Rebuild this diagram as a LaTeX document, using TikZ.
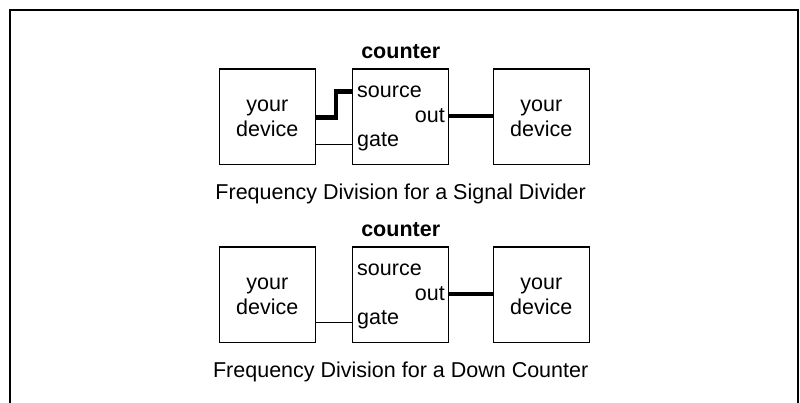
\documentclass[tikz,border=0pt]{standalone}
\usepackage{fontspec}
\setmainfont{Liberation Sans}
\begin{document}
\begin{tikzpicture}[x=1pt,y=-1pt,
  box/.style={draw,line width=1.3pt,minimum width=96pt,minimum height=95.5pt,inner sep=0pt,outer sep=0pt},
  lbl/.style={inner sep=0pt,font=\fontsize{21.5}{24}\selectfont},
  ttl/.style={inner sep=0pt,font=\fontsize{21.5}{24}\selectfont\bfseries,anchor=base},
  heavy/.style={line width=4.7pt},
  light/.style={line width=1.3pt}]
\useasboundingbox (0,0) rectangle (800,402);
\fill[white] (0,0) rectangle (800,402);
\draw[line width=2pt] (10,440) -- (10,10) -- (798,10) -- (798,440);
% top diagram
\begin{scope}[name prefix=a-]
\node[box] (L) at (267.3,116.7) {};
\node[box] (C) at (400.7,116.7) {};
\node[box] (R) at (541.3,116.7) {};
\node[ttl] (T) at (400.7,58.3) {counter};
\node[lbl,anchor=base] (L1) at (267.3,111.7) {your};
\node[lbl,anchor=base] (L2) at (267.3,136) {device};
\node[lbl,anchor=base] (R1) at (541.3,111.7) {your};
\node[lbl,anchor=base] (R2) at (541.3,136) {device};
\node[lbl,anchor=base west] (src) at (357,97.3) {source};
\node[lbl,anchor=base east] (out) at (445,122.7) {out};
\node[lbl,anchor=base west] (gate) at (357,146) {gate};
\node[lbl,anchor=base] (cap) at (400.7,199.3) {Frequency Division for a Signal Divider};
\coordinate (step) at (336,117.5);
\draw[heavy] (L.east |- step) -- (step) |- (C.west |- 0,91.8);
\draw[heavy] (C.east |- 0,116) -- (R.west |- 0,116);
\draw[light] (L.east |- 0,144.3) -- (C.west |- 0,144.3);
\end{scope}
% bottom diagram
\begin{scope}[shift={(0,178)},name prefix=b-]
\node[box] (L) at (267.3,116.7) {};
\node[box] (C) at (400.7,116.7) {};
\node[box] (R) at (541.3,116.7) {};
\node[ttl] (T) at (400.7,58.3) {counter};
\node[lbl,anchor=base] (L1) at (267.3,111.7) {your};
\node[lbl,anchor=base] (L2) at (267.3,136) {device};
\node[lbl,anchor=base] (R1) at (541.3,111.7) {your};
\node[lbl,anchor=base] (R2) at (541.3,136) {device};
\node[lbl,anchor=base west] (src) at (357,97.3) {source};
\node[lbl,anchor=base east] (out) at (445,122.7) {out};
\node[lbl,anchor=base west] (gate) at (357,146) {gate};
\node[lbl,anchor=base] (cap) at (400.7,199.3) {Frequency Division for a Down Counter};
\draw[heavy] (C.east |- 0,116) -- (R.west |- 0,116);
\draw[light] (L.east |- 0,144.3) -- (C.west |- 0,144.3);
\end{scope}
\end{tikzpicture}
\end{document}
